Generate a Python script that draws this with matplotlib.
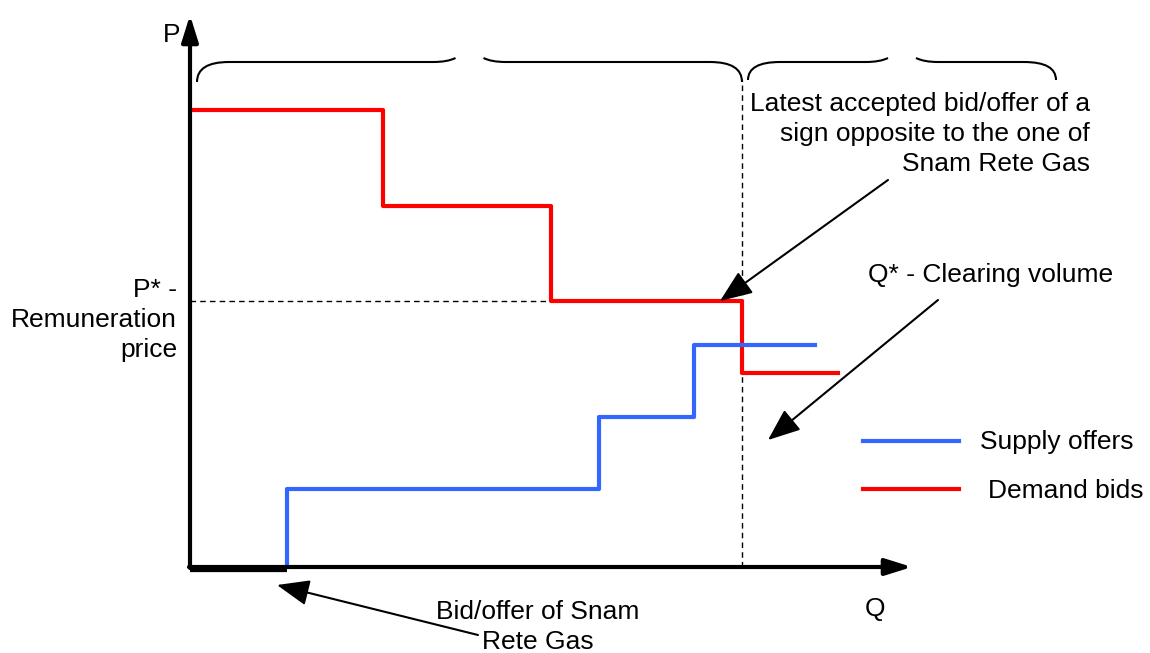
import matplotlib
matplotlib.use("Agg")
import matplotlib.pyplot as plt
from matplotlib.path import Path
from matplotlib.patches import PathPatch

plt.rcParams["font.family"] = ["Liberation Sans", "DejaVu Sans"]

# demand bids (steps, price holds until next quantity)
demand_q = [2, 193, 361, 552, 648]
demand_p = [457, 361, 266, 194, 194]

# supply offers
supply_q = [97, 97, 409, 504, 625]
supply_p = [0, 78, 150, 222, 222]

q_star = 552
p_star = 266
snam_q = 97

blue = "#3366FF"
red = "#FF0000"

fig = plt.figure(figsize=(11.5, 6.53), dpi=100)
ax = fig.add_axes([0, 0, 1, 1])
ax.set_xlim(-190, 960)
ax.set_ylim(-86, 567)
ax.axis("off")


def brace(q0, q1, low, high, w=32, g=14):
    mid = (q0 + q1) / 2
    left = [(q0, low), (q0, high), (q0 + w, high),
            (mid - g - 22, high), (mid - g - 8, high), (mid - g, high + 4)]
    right = [(mid + g, high + 4), (mid + g + 8, high), (mid + g + 22, high),
             (q1 - w, high), (q1, high), (q1, low)]
    codes = [Path.MOVETO, Path.CURVE3, Path.CURVE3,
             Path.LINETO, Path.CURVE3, Path.CURVE3]
    for pts in (left, right):
        ax.add_patch(PathPatch(Path(pts, codes), fill=False, lw=1.5, color="k"))


# axes with arrows
ax.annotate("", xy=(0, 552), xytext=(0, -1),
            arrowprops=dict(arrowstyle="-|>,head_width=0.25,head_length=0.8",
                            lw=3, color="k", mutation_scale=20,
                            shrinkA=0, shrinkB=0))
ax.annotate("", xy=(722, 0), xytext=(-1, 0),
            arrowprops=dict(arrowstyle="-|>,head_width=0.25,head_length=0.8",
                            lw=3, color="k", mutation_scale=20,
                            shrinkA=0, shrinkB=0))
ax.plot([0, snam_q], [-2, -2], color="k", lw=4.5, solid_capstyle="butt")

# dashed guides
ax.plot([q_star, q_star], [0, 487], color="k", lw=1, dashes=(4, 3))
ax.plot([0, q_star], [p_star, p_star], color="k", lw=1, dashes=(4, 3))

# curves
ax.plot(demand_q, demand_p, drawstyle="steps-post", color=red, lw=3)
ax.plot(supply_q, supply_p, drawstyle="steps-post", color=blue, lw=3)

# braces
brace(7, q_star, 485, 505)
brace(q_star + 6, 866, 487, 505)

fs = 19
ls = 1.3
ax.text(-18, 532, "P", fontsize=fs, ha="center", va="center")
ax.text(685, -42, "Q", fontsize=fs, ha="center", va="center")
ax.text(-13, 247, "P* -\nRemuneration\nprice", fontsize=fs, ha="right",
        va="center", linespacing=ls)
ax.text(900, 433, "Latest accepted bid/offer of a\nsign opposite to the one of\nSnam Rete Gas",
        fontsize=fs, ha="right", va="center", linespacing=ls)
ax.text(678, 292, "Q* - Clearing volume", fontsize=fs, ha="left", va="center")
ax.text(348, -60, "Bid/offer of Snam\nRete Gas", fontsize=fs, ha="center",
        va="center", linespacing=ls)

# legend drawn by hand
ax.plot([673, 769], [126, 126], color=blue, lw=3)
ax.plot([673, 769], [78, 78], color=red, lw=3)
ax.text(790, 125, "Supply offers", fontsize=fs, ha="left", va="center")
ax.text(798, 76, "Demand bids", fontsize=fs, ha="left", va="center")

arrow = dict(arrowstyle="-|>,head_width=0.4,head_length=1.0", lw=1.5,
             color="k", mutation_scale=20, shrinkA=0, shrinkB=0)
ax.annotate("", xy=(530, p_star), xytext=(698, 387), arrowprops=arrow)
ax.annotate("", xy=(578, 127), xytext=(748, 267), arrowprops=arrow)
ax.annotate("", xy=(87, -18), xytext=(288, -68), arrowprops=arrow)

fig.savefig("out.png", dpi=100)
